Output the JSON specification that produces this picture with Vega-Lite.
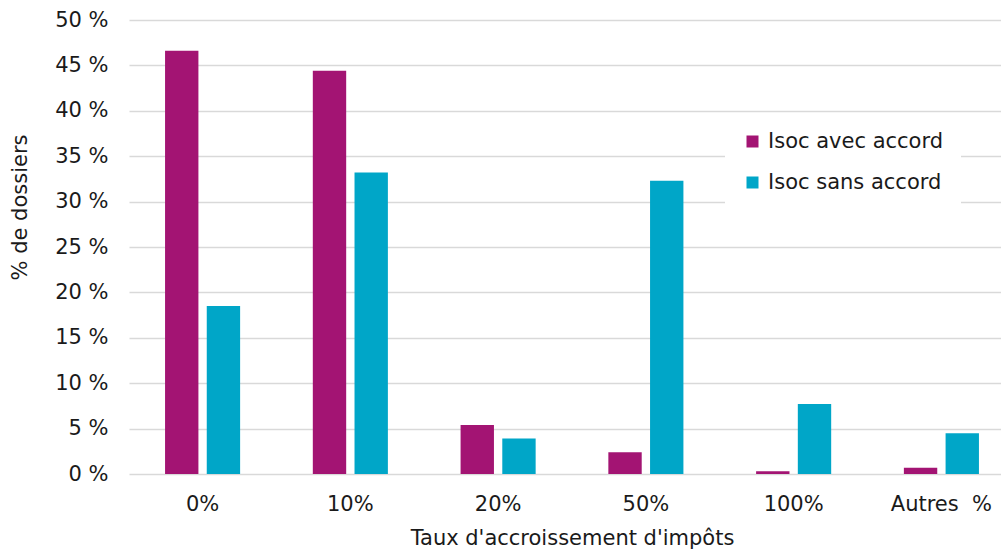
{
  "$schema": "https://vega.github.io/schema/vega-lite/v6.json",
  "autosize": {"type": "none"},
  "padding": {"left": 129, "top": 20, "right": 0, "bottom": 75},
  "width": 886,
  "height": 454,
  "background": "white",
  "config": {
    "view": {"stroke": null},
    "font": "DejaVu Sans",
    "axis": {
      "labelFont": "DejaVu Sans",
      "titleFont": "DejaVu Sans",
      "labelFontSize": 21,
      "titleFontSize": 21,
      "labelColor": "#1a1a1a",
      "titleColor": "#1a1a1a",
      "titleFontWeight": "normal"
    }
  },
  "data": {
    "values": [
      {"taux": "0%", "serie": "Isoc avec accord", "pct": 46.6},
      {"taux": "0%", "serie": "Isoc sans accord", "pct": 18.5},
      {"taux": "10%", "serie": "Isoc avec accord", "pct": 44.4},
      {"taux": "10%", "serie": "Isoc sans accord", "pct": 33.2},
      {"taux": "20%", "serie": "Isoc avec accord", "pct": 5.4},
      {"taux": "20%", "serie": "Isoc sans accord", "pct": 3.9},
      {"taux": "50%", "serie": "Isoc avec accord", "pct": 2.4},
      {"taux": "50%", "serie": "Isoc sans accord", "pct": 32.3},
      {"taux": "100%", "serie": "Isoc avec accord", "pct": 0.3},
      {"taux": "100%", "serie": "Isoc sans accord", "pct": 7.7},
      {"taux": "Autres\u00a0 %", "serie": "Isoc avec accord", "pct": 0.7},
      {"taux": "Autres\u00a0 %", "serie": "Isoc sans accord", "pct": 4.5}
    ]
  },
  "mark": {"type": "bar"},
  "encoding": {
    "x": {
      "field": "taux",
      "type": "nominal",
      "sort": null,
      "scale": {"paddingInner": 0.492, "paddingOuter": 0.244},
      "axis": {
        "title": "Taux d'accroissement d'impôts",
        "labelAngle": 0,
        "labelPadding": 19,
        "ticks": false,
        "domain": false,
        "titlePadding": 13
      }
    },
    "xOffset": {
      "field": "serie",
      "type": "nominal",
      "scale": {"paddingInner": 0.2, "paddingOuter": 0}
    },
    "y": {
      "field": "pct",
      "type": "quantitative",
      "scale": {"domain": [0, 50], "nice": false},
      "axis": {
        "title": "% de dossiers",
        "values": [0, 5, 10, 15, 20, 25, 30, 35, 40, 45, 50],
        "labelExpr": "datum.value + ' %'",
        "ticks": false,
        "domain": false,
        "labelPadding": 21,
        "gridColor": "#d9d9d9",
        "gridWidth": 1.5,
        "titleAngle": -90,
        "titleX": -109,
        "titleY": 187,
        "titleAlign": "center",
        "titleBaseline": "middle"
      }
    },
    "color": {
      "field": "serie",
      "type": "nominal",
      "scale": {
        "domain": ["Isoc avec accord", "Isoc sans accord"],
        "range": ["#a31473", "#00a6c8"]
      },
      "legend": {
        "title": null,
        "orient": "none",
        "legendX": 596,
        "legendY": 94,
        "fillColor": "white",
        "padding": 17,
        "symbolType": "square",
        "symbolSize": 144,
        "symbolStrokeWidth": 0,
        "labelFont": "DejaVu Sans",
        "labelFontSize": 21,
        "labelLimit": 300,
        "labelColor": "#1a1a1a",
        "labelOffset": 5,
        "rowPadding": 19
      }
    }
  }
}
